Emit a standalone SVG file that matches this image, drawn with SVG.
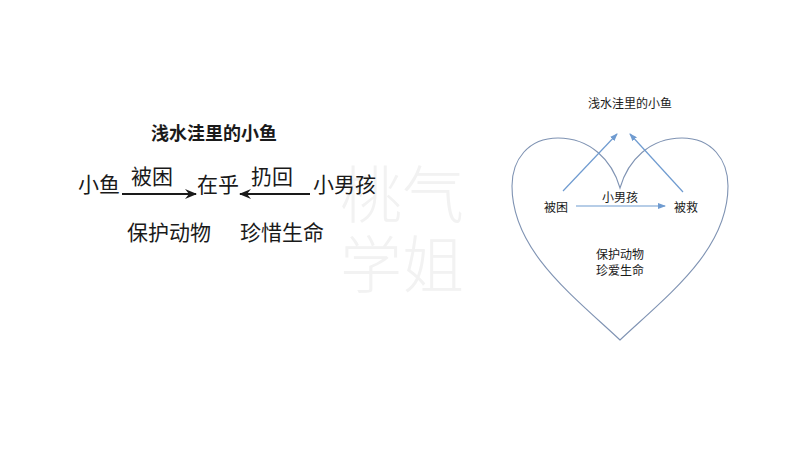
<svg xmlns="http://www.w3.org/2000/svg" width="800" height="450" viewBox="0 0 800 450">
<defs>
<style>
.cn{font-family:"Noto Sans CJK SC","Noto Sans",sans-serif;fill:#1a1a1a}
.big{font-size:21px}
.title{font-size:18px;font-weight:bold}
.sm{font-size:12px}
.wm{font-family:"Noto Sans CJK SC",sans-serif;font-size:62px;fill:#f2f2f2;font-weight:300}
.blk{stroke:#1a1a1a;stroke-width:2;fill:none}
.blu{stroke:#6f9bd0;stroke-width:1.2;fill:none}
.hrt{stroke:#7f93b3;stroke-width:1.1;fill:none}
</style>
<marker id="ab" markerWidth="12" markerHeight="10" refX="11" refY="5" orient="auto" markerUnits="userSpaceOnUse">
<path d="M0,0 L12,5 L0,10 L4,5 Z" fill="#1a1a1a"/>
</marker>
<marker id="au" markerWidth="8" markerHeight="6" refX="7" refY="3" orient="auto" markerUnits="userSpaceOnUse">
<path d="M0,0 L8,3 L0,6 Z" fill="#6f9bd0"/>
</marker>
</defs>
<rect width="800" height="450" fill="#ffffff"/>
<g id="watermark">
<text class="wm" text-anchor="middle"><tspan x="402" y="218">桃气</tspan><tspan x="402" y="288">学姐</tspan></text>
</g>
<g id="left">
<g id="title-left"><text class="cn title" x="214" y="140" text-anchor="middle">浅水洼里的小鱼</text></g>
<g id="n-fish"><text class="cn big" x="78" y="192">小鱼</text></g>
<g id="n-care"><text class="cn big" x="197" y="192">在乎</text></g>
<g id="n-boy"><text class="cn big" x="313" y="192">小男孩</text></g>
<g id="l-trapped"><text class="cn big" x="131" y="184">被困</text></g>
<g id="l-throw"><text class="cn big" x="251" y="184">扔回</text></g>
<g id="n-theme"><text class="cn big" x="127" y="240">保护动物</text><text class="cn big" x="240" y="240">珍惜生命</text></g>
<g id="connectors-left">
<line class="blk" x1="122" y1="194" x2="196" y2="194" marker-end="url(#ab)"/>
<line class="blk" x1="310" y1="194" x2="240" y2="194" marker-end="url(#ab)"/>
</g>
</g>
<g id="right">
<g id="heart"><path class="hrt" d="M620,188 C612,160 590,138 558,138 C528,138 512,160 512,186 C512,250 572,295 620,340 C668,295 728,250 728,186 C728,160 712,138 682,138 C650,138 628,160 620,188 Z"/></g>
<g id="title-right"><text class="cn sm" x="630" y="108" text-anchor="middle">浅水洼里的小鱼</text></g>
<g id="n-trapped"><text class="cn sm" x="556" y="212" text-anchor="middle">被困</text></g>
<g id="n-saved"><text class="cn sm" x="686" y="212" text-anchor="middle">被救</text></g>
<g id="n-boy-r"><text class="cn sm" x="620" y="202" text-anchor="middle">小男孩</text></g>
<g id="n-theme-r"><text class="cn sm" x="620" y="259" text-anchor="middle">保护动物</text><text class="cn sm" x="620" y="275" text-anchor="middle">珍爱生命</text></g>
<g id="connectors-right">
<line class="blu" x1="563" y1="191" x2="617" y2="134" marker-end="url(#au)"/>
<line class="blu" x1="683" y1="192" x2="630" y2="134" marker-end="url(#au)"/>
<line class="blu" x1="576" y1="206" x2="665" y2="206" marker-end="url(#au)"/>
</g>
</g>
</svg>
